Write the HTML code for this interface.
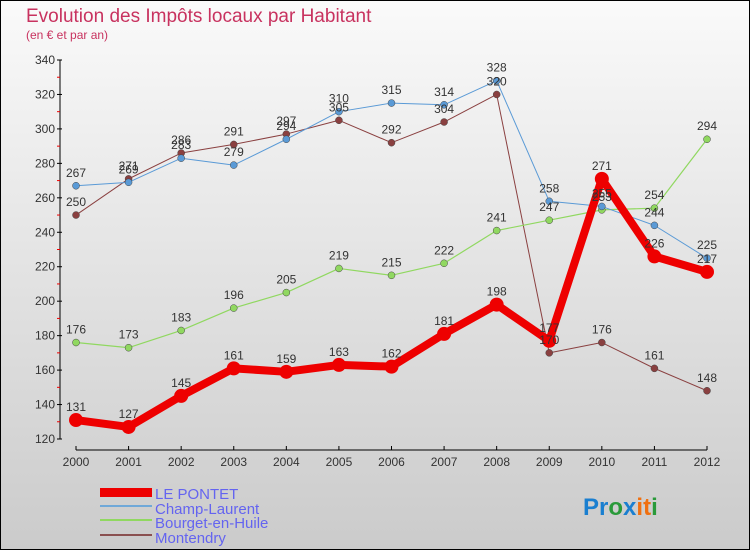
<!DOCTYPE html>
<html><head><meta charset="utf-8"><style>
body{margin:0}
#wrap{width:750px;height:550px;position:relative;box-sizing:border-box;border:1px solid #000;background:linear-gradient(#fafafa,#cbcbcb);font-family:"Liberation Sans",sans-serif;overflow:hidden}
</style></head><body>
<div id="wrap">
<svg id="chart" width="750" height="550" style="position:absolute;left:-1px;top:-1px">
<text x="26" y="22" font-size="19" fill="#c8325f">Evolution des Impôts locaux par Habitant</text>
<text x="26" y="39" font-size="12" fill="#c8325f">(en € et par an)</text>
<g id="axes"></g><g id="series"></g><g id="labels"></g>
<g font-size="15" fill="#6464f0">
<rect x="100" y="488" width="52" height="9" fill="#e00"/>
<text x="155" y="499">LE PONTET</text>
<rect x="100" y="505" width="52" height="2" fill="#6fa8d8"/>
<text x="155" y="514">Champ-Laurent</text>
<rect x="100" y="519" width="52" height="2" fill="#90d860"/>
<text x="155" y="528">Bourget-en-Huile</text>
<rect x="100" y="534" width="52" height="2" fill="#8a5050"/>
<text x="155" y="543">Montendry</text>
</g>
<g font-size="24" font-weight="bold">
<text x="583" y="515"><tspan fill="#1a7fd0">Pr</tspan><tspan fill="#2a9a3a">o</tspan><tspan fill="#1a7fd0">x</tspan><tspan fill="#f07010">i</tspan><tspan fill="#f07010">t</tspan><tspan fill="#2a9a3a">i</tspan></text>
</g>
</svg>
</div>
<script>
const years=[2000,2001,2002,2003,2004,2005,2006,2007,2008,2009,2010,2011,2012];
const lePontet=[131,127,145,161,159,163,162,181,198,177,271,226,217];
const champLaurent=[267,269,283,279,294,310,315,314,328,258,255,244,225];
const bourget=[176,173,183,196,205,219,215,222,241,247,253,254,294];
const montendry=[250,271,286,291,297,305,292,304,320,170,176,161,148];
const yTicks=[120,140,160,180,200,220,240,260,280,300,320,340];
const NS="http://www.w3.org/2000/svg";
const xS=i=>76+i*(707-76)/(years.length-1);
const yS=v=>439-(v-120)*(439-60)/220;
function mk(tag,attrs,parent){const e=document.createElementNS(NS,tag);for(const k in attrs)e.setAttribute(k,attrs[k]);parent.appendChild(e);return e;}
const axes=document.getElementById('axes'),sg=document.getElementById('series'),lg=document.getElementById('labels');
let a=mk('line',{x1:60,y1:60,x2:60,y2:439,stroke:'#000'},axes);

a=mk('line',{x1:76,y1:450,x2:707,y2:450,stroke:'#000'},axes);

yTicks.forEach(v=>{
 mk('line',{x1:57,y1:yS(v),x2:62,y2:yS(v),stroke:'#000'},axes);
 if(v<340)mk('line',{x1:57,y1:yS(v+10),x2:60,y2:yS(v+10),stroke:'#e00'},axes);
 const t=mk('text',{x:55,y:yS(v)+4,'text-anchor':'end','font-size':12,fill:'#333'},axes);
 t.textContent=v;
 
 
});
years.forEach((y,i)=>{
 mk('line',{x1:xS(i),y1:446,x2:xS(i),y2:450,stroke:'#000'},axes);
 const t=mk('text',{x:xS(i),y:466,'text-anchor':'middle','font-size':12,fill:'#333'},axes);
 t.textContent=y;
 
 
});
function series(data,color,w,r,name){
 const p=mk('polyline',{points:data.map((v,i)=>xS(i)+','+yS(v)).join(' '),fill:'none',stroke:color,'stroke-width':w,'stroke-linejoin':'round'},sg);
 
 
 data.forEach((v,i)=>{
  const c=mk('circle',{cx:xS(i),cy:yS(v),r:r,fill:color,stroke:r<5?'#444':'none','stroke-width':0.5},sg);
  
  
  const t=mk('text',{x:xS(i),y:yS(v)-9,'text-anchor':'middle','font-size':12,fill:'#333'},lg);
  t.textContent=v;
  
  
 });
}
series(montendry,'#8a4040',1,3.5,'montendry');
series(bourget,'#90d860',1.2,3.5,'bourget');
series(champLaurent,'#5a9ad6',1,3.5,'champ-laurent');
series(lePontet,'#e00',8,7,'le-pontet');
</script>
</body></html>
